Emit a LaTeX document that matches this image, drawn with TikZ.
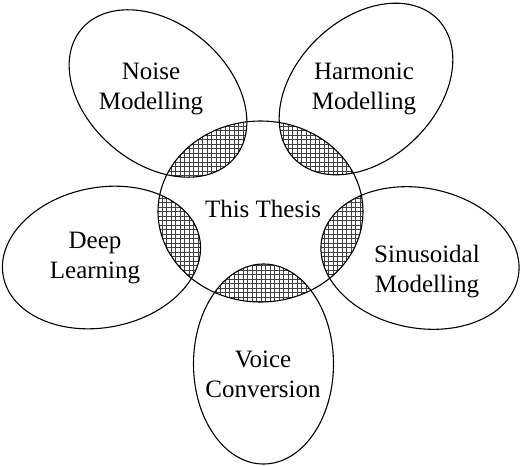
\documentclass[tikz,border=0pt]{standalone}
\usepackage{fontspec}
\setmainfont{Liberation Serif}
\begin{document}
\begin{tikzpicture}[x=1pt,y=-1pt,
  outline/.style={line width=1.1pt,black},
  hatch/.style={line width=0.45pt,black!75},
  label/.style={align=center,font=\fontsize{25}{30}\selectfont,inner sep=0pt}]
\useasboundingbox (0,0) rectangle (520,466);
\def\cen{(260.5,211.5) ellipse [x radius=102.5pt, y radius=90.5pt]}
\foreach \cx/\cy/\ang in {158/93.5/-40, 366/89/44, 101.5/257.5/11, 420/258/-11, 263.5/364/90}{
  \begin{scope}
    \clip \cen;
    \clip[shift={(\cx,\cy)},rotate=\ang] (0,0) ellipse [x radius=100pt, y radius=70pt];
    \draw[hatch,step=4.5pt] (140,100) grid (390,320);
  \end{scope}
  \draw[outline,shift={(\cx,\cy)},rotate=\ang] (0,0) ellipse [x radius=100pt, y radius=70pt];
}
\draw[outline] \cen;
\node[label] (thesis) at (263,209) {This Thesis};
\node[label] (noise) at (151,89) {Noise\\Modelling};
\node[label] (harm) at (364,89) {Harmonic\\Modelling};
\node[label] (deep) at (95,258) {Deep\\Learning};
\node[label] (sin) at (427,272) {Sinusoidal\\Modelling};
\node[label] (voice) at (263,374) {Voice\\Conversion};
\end{tikzpicture}
\end{document}
